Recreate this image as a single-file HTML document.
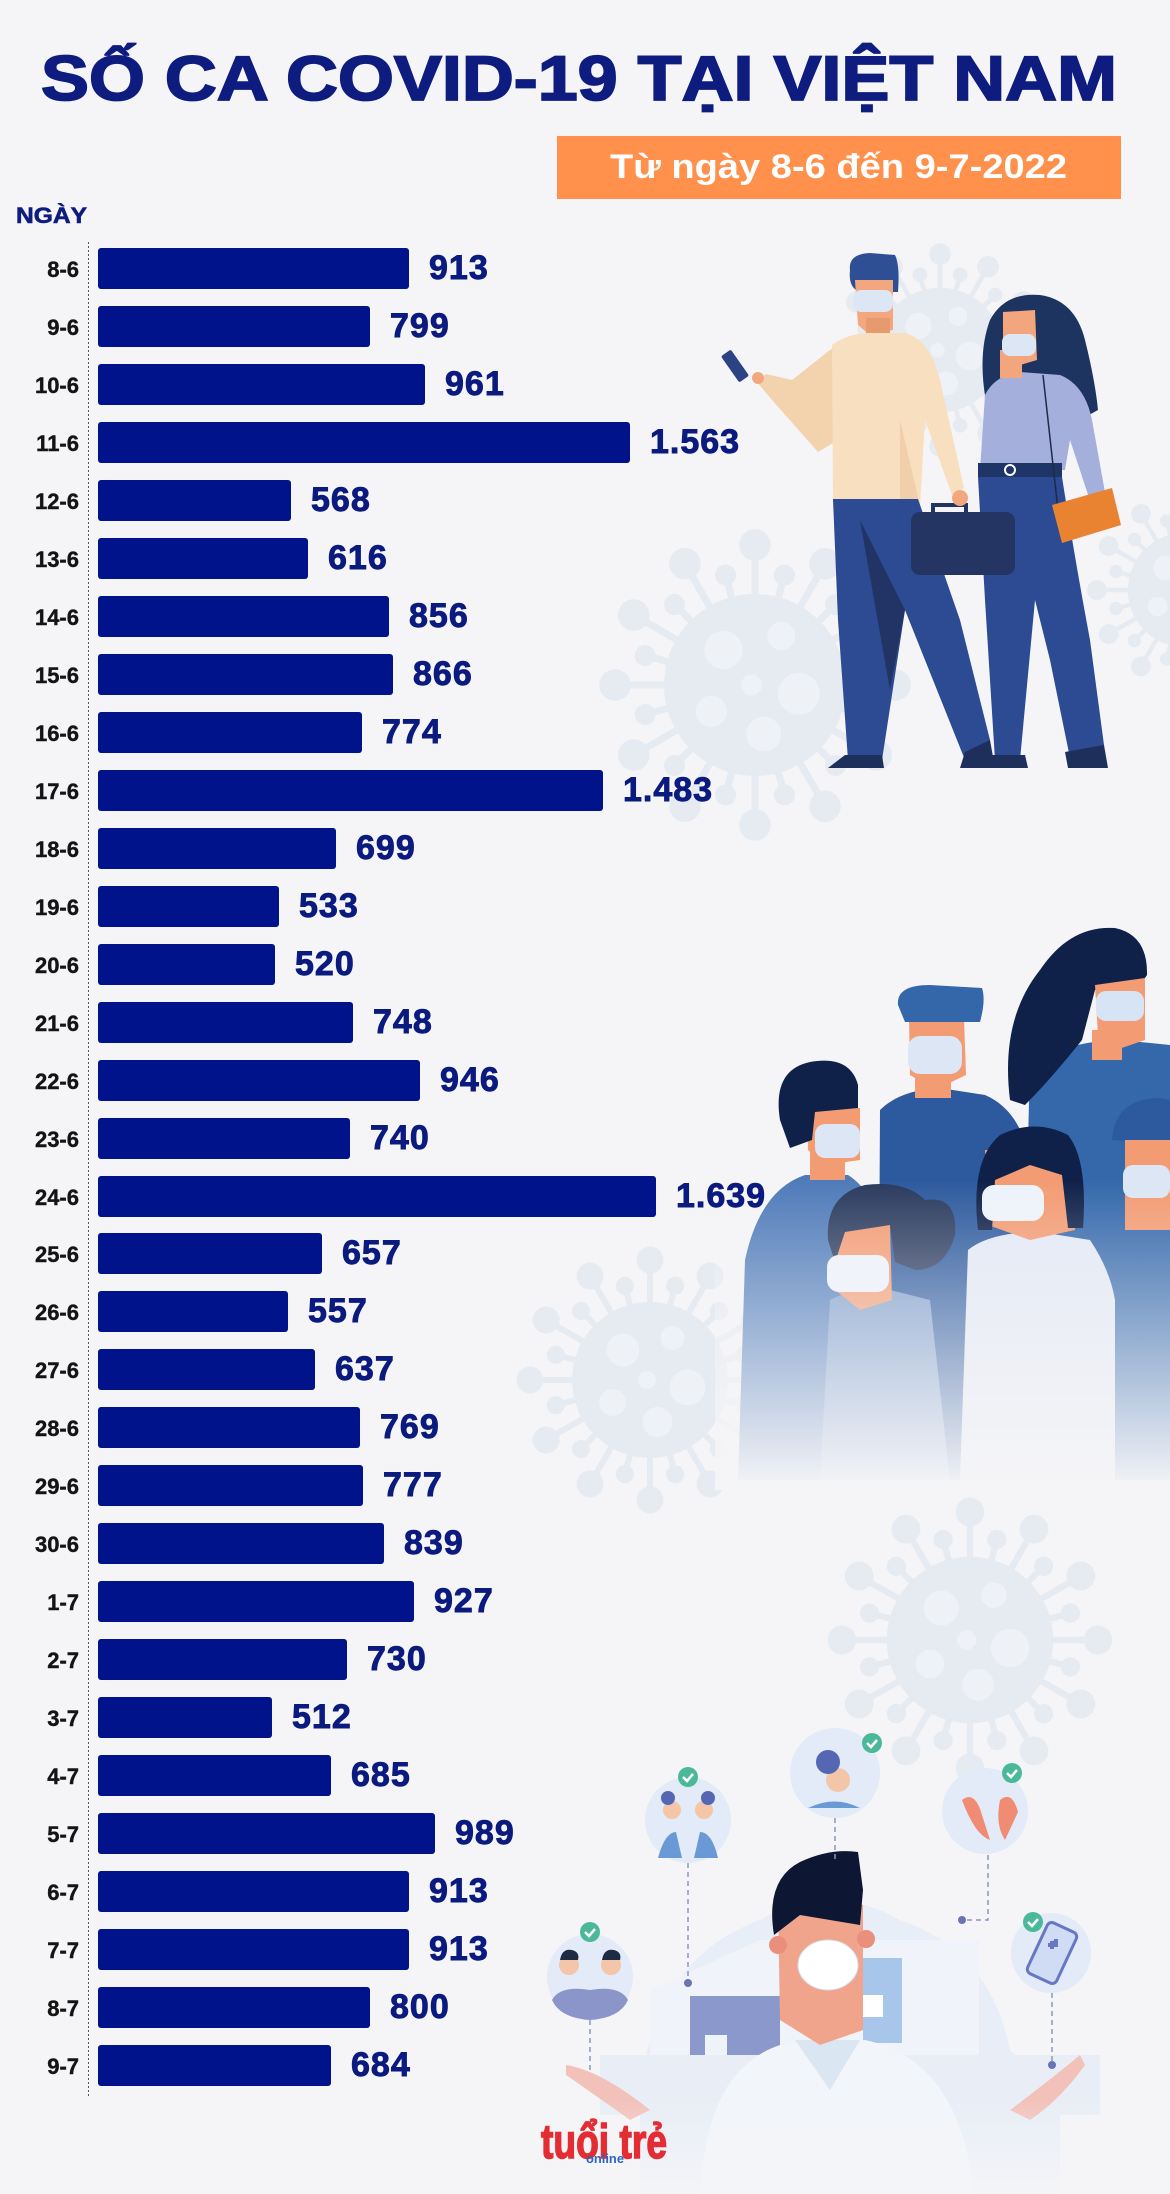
<!DOCTYPE html>
<html><head><meta charset="utf-8"><style>
html,body{margin:0;padding:0;background:#f5f5f7;}
svg{display:block;}
</style></head><body>
<svg width="1170" height="2194" viewBox="0 0 1170 2194" xmlns="http://www.w3.org/2000/svg">
<defs>
<g id="vir">
<path d="M0 0L80 0M0 0L69.3 40M0 0L40 69.3M0 0L0 80M0 0L-40 69.3M0 0L-69.3 40M0 0L-80 0M0 0L-69.3 -40M0 0L-40 -69.3M0 0L0 -80M0 0L40 -69.3M0 0L69.3 -40M0 0L62.8 16.8M0 0L46 46M0 0L16.8 62.8M0 0L-16.8 62.8M0 0L-46 46M0 0L-62.8 16.8M0 0L-62.8 -16.8M0 0L-46 -46M0 0L-16.8 -62.8M0 0L16.8 -62.8M0 0L46 -46M0 0L62.8 -16.8" stroke="#e6eaf1" stroke-width="4" fill="none"/>
<g fill="#e6eaf1">
<circle cx="80" cy="0" r="9"/><circle cx="69.3" cy="40" r="9"/><circle cx="40" cy="69.3" r="9"/><circle cx="0" cy="80" r="9"/><circle cx="-40" cy="69.3" r="9"/><circle cx="-69.3" cy="40" r="9"/><circle cx="-80" cy="0" r="9"/><circle cx="-69.3" cy="-40" r="9"/><circle cx="-40" cy="-69.3" r="9"/><circle cx="0" cy="-80" r="9"/><circle cx="40" cy="-69.3" r="9"/><circle cx="69.3" cy="-40" r="9"/>
<circle cx="62.8" cy="16.8" r="6"/><circle cx="46" cy="46" r="6"/><circle cx="16.8" cy="62.8" r="6"/><circle cx="-16.8" cy="62.8" r="6"/><circle cx="-46" cy="46" r="6"/><circle cx="-62.8" cy="16.8" r="6"/><circle cx="-62.8" cy="-16.8" r="6"/><circle cx="-46" cy="-46" r="6"/><circle cx="-16.8" cy="-62.8" r="6"/><circle cx="16.8" cy="-62.8" r="6"/><circle cx="46" cy="-46" r="6"/><circle cx="62.8" cy="-16.8" r="6"/>
<circle cx="0" cy="0" r="52"/>
</g>
<g fill="#eef1f5">
<circle cx="-18" cy="-20" r="11"/><circle cx="15" cy="-28" r="8"/><circle cx="25" cy="5" r="12"/><circle cx="-25" cy="15" r="9"/><circle cx="5" cy="28" r="10"/><circle cx="-2" cy="0" r="6"/>
</g>
</g>
<linearGradient id="fadeCrowd" x1="0" y1="0" x2="0" y2="1">
<stop offset="0" stop-color="#f5f5f7" stop-opacity="0"/>
<stop offset="0.4" stop-color="#f5f5f7" stop-opacity="0.4"/>
<stop offset="1" stop-color="#f5f5f7" stop-opacity="1"/>
</linearGradient>
<linearGradient id="fadeDoc" x1="0" y1="0" x2="0" y2="1">
<stop offset="0" stop-color="#f5f5f7" stop-opacity="0"/>
<stop offset="1" stop-color="#f5f5f7" stop-opacity="0.9"/>
</linearGradient>
</defs>

<rect width="1170" height="2194" fill="#f5f5f7"/>

<!-- background viruses -->
<use href="#vir" transform="translate(940,350) scale(1.2)"/>
<use href="#vir" transform="translate(755,685) scale(1.75)"/>
<use href="#vir" transform="translate(1185,590) scale(1.1)"/>
<use href="#vir" transform="translate(650,1380) scale(1.5)"/>
<use href="#vir" transform="translate(970,1640) scale(1.6)"/>
<use href="#vir" transform="translate(1160,1330) scale(0.9)"/>

<!-- Title -->
<text x="41" y="100" font-family="Liberation Sans, sans-serif" font-weight="bold" font-size="63" fill="#0e1c80" stroke="#0e1c80" stroke-width="1.8" textLength="1076" lengthAdjust="spacingAndGlyphs">SỐ CA COVID-19 TẠI VIỆT NAM</text>

<rect x="557" y="136" width="564" height="63" fill="#ff914d"/>
<text x="610" y="178" font-family="Liberation Sans, sans-serif" font-weight="bold" font-size="34" fill="#ffffff" textLength="457" lengthAdjust="spacingAndGlyphs">Từ ngày 8-6 đến 9-7-2022</text>

<text x="16" y="223" font-family="Liberation Sans, sans-serif" font-weight="bold" font-size="22" fill="#0e1c80" stroke="#0e1c80" stroke-width="0.6" textLength="71" lengthAdjust="spacingAndGlyphs">NGÀY</text>

<line x1="88.5" y1="242" x2="88.5" y2="2096" stroke="#555" stroke-width="1" stroke-dasharray="2,2"/>

<!-- Couple illustration -->
<g>
<path d="M990 420 Q975 360 990 320 Q1005 292 1040 295 Q1075 300 1085 340 Q1095 380 1098 410 L1080 420 Z" fill="#1d3461"/>
<path d="M980 470 L985 395 Q995 375 1020 372 L1060 375 Q1085 385 1092 420 L1110 520 L1098 525 L1070 440 L1065 470 Z" fill="#a4afdc"/>
<rect x="1000" y="350" width="22" height="28" fill="#f3a57d"/>
<path d="M1003 312 L1035 310 L1037 360 L1010 368 L1003 350 Z" fill="#f3a57d"/>
<rect x="1002" y="334" width="34" height="22" rx="8" fill="#dce6f5"/>
<rect x="978" y="463" width="84" height="14" fill="#1f3467"/>
<circle cx="1010" cy="470" r="5" fill="none" stroke="#fff" stroke-width="2"/>
<path d="M978 477 L1062 477 Q1075 560 1090 640 L1104 745 L1090 760 L1070 758 L1050 660 L1035 600 L1020 760 L995 760 L985 600 Z" fill="#2c4b92"/>
<path d="M1065 752 L1104 745 L1108 768 L1068 768 Z" fill="#1f2f5c"/>
<path d="M990 755 L1025 755 L1028 768 L988 768 Z" fill="#1f2f5c"/>
<path d="M1043 375 L1058 510" stroke="#1d2a4a" stroke-width="1.5"/>
<path d="M1052 505 L1112 488 L1121 525 L1062 543 Z" fill="#e98332"/>
<path d="M850 270 Q848 254 870 253 L895 255 Q900 265 898 292 L860 292 Q848 288 850 270 Z" fill="#2f4f94"/>
<path d="M855 280 L893 280 L893 330 L870 335 L858 325 Z" fill="#f2a77e"/>
<rect x="853" y="290" width="40" height="22" rx="8" fill="#dce6f5"/>
<rect x="866" y="318" width="24" height="22" fill="#e89a6f"/>
<path d="M842 345 L838 440 L818 452 L772 400 L757 382 L766 374 L792 380 L830 350 Z" fill="#f3d2ae"/>
<rect x="729" y="350" width="12" height="32" rx="2" transform="rotate(-35 735 366)" fill="#2b4285"/>
<circle cx="758" cy="378" r="6" fill="#f2a77e"/>
<path d="M832 345 Q850 332 875 333 L905 333 Q930 340 940 380 L964 488 L952 495 L925 420 L920 506 L833 506 Z" fill="#f8dfc0"/>
<path d="M900 420 L920 506 L900 506 Z" fill="#f0cfaa"/>
<path d="M833 499 L918 499 L960 620 L990 740 L985 758 L965 760 L905 610 L882 760 L848 760 L838 620 Z" fill="#2c4b92"/>
<path d="M860 520 L905 610 L890 690 Z" fill="#223366"/>
<path d="M845 755 L882 755 L884 768 L828 768 Z" fill="#1f2f5c"/>
<path d="M965 752 L990 740 L995 768 L960 768 Z" fill="#1f2f5c"/>
<path d="M933 513 L933 505 L966 505 L966 513" stroke="#243563" stroke-width="4" fill="none"/>
<rect x="911" y="512" width="104" height="63" rx="9" fill="#243563"/>
<circle cx="960" cy="498" r="8" fill="#f2a77e"/>
</g>

<!-- Crowd illustration -->
<g>
<path d="M1030 1060 Q1080 1040 1120 1040 L1170 1045 L1170 1480 L1020 1480 Z" fill="#3468ab"/>
<path d="M1010 1100 Q1000 1020 1040 970 Q1070 925 1115 928 Q1148 935 1147 975 L1140 985 L1095 990 L1082 1040 Q1050 1080 1025 1105 Z" fill="#0f2149"/>
<path d="M1095 985 L1145 978 L1145 1040 L1110 1052 L1098 1035 Z" fill="#f39b72"/>
<rect x="1092" y="1030" width="30" height="30" fill="#f39b72"/>
<rect x="1096" y="991" width="48" height="30" rx="10" fill="#d6e4f5"/>
<path d="M1112 1140 Q1115 1098 1160 1098 L1170 1100 L1170 1145 Z" fill="#2d5a9e"/>
<rect x="1125" y="1140" width="45" height="90" fill="#f39b72"/>
<rect x="1123" y="1165" width="47" height="33" rx="10" fill="#dce6f5"/>
<path d="M880 1110 Q900 1090 940 1088 L985 1095 Q1020 1110 1030 1160 L1030 1480 L878 1480 Z" fill="#2d5a9e"/>
<rect x="915" y="1060" width="36" height="38" fill="#f39b72"/>
<path d="M909 1018 L964 1018 L966 1075 L935 1090 L910 1075 Z" fill="#f39b72"/>
<path d="M898 1005 Q896 985 930 985 L982 988 Q986 1000 980 1022 L905 1022 Z" fill="#3467a9"/>
<rect x="908" y="1036" width="54" height="38" rx="12" fill="#dce6f5"/>
<path d="M745 1260 Q760 1190 805 1175 L848 1175 Q872 1190 882 1230 L882 1480 L738 1480 Z" fill="#4f7bb9"/>
<rect x="810" y="1145" width="35" height="35" fill="#f39b72"/>
<path d="M807 1108 L860 1108 L860 1160 L825 1165 L808 1150 Z" fill="#f39b72"/>
<path d="M780 1120 Q772 1070 810 1062 Q850 1055 858 1085 L858 1108 L815 1112 L812 1140 L790 1148 Z" fill="#0f2149"/>
<rect x="815" y="1124" width="45" height="34" rx="10" fill="#dce6f5"/>
<path d="M968 1250 Q990 1232 1040 1232 L1090 1240 Q1110 1270 1115 1300 L1115 1480 L960 1480 Z" fill="#e3e9f5"/>
<path d="M985 1150 L1075 1150 L1075 1230 L1030 1240 L988 1225 Z" fill="#f39b72"/>
<path d="M978 1230 Q970 1160 1000 1135 Q1035 1118 1068 1135 Q1088 1160 1083 1228 L1068 1228 L1062 1175 L1030 1165 L995 1180 L992 1230 Z" fill="#0f2149"/>
<rect x="982" y="1185" width="62" height="36" rx="12" fill="#eef3fb"/>
<path d="M830 1300 Q850 1288 890 1290 L930 1300 L950 1480 L820 1480 Z" fill="#7d9dcb"/>
<path d="M832 1225 L890 1225 L892 1300 L860 1310 L835 1290 Z" fill="#f39b72"/>
<path d="M828 1240 Q825 1195 865 1185 Q905 1180 925 1200 Q958 1195 955 1235 Q945 1270 915 1270 L895 1262 L890 1225 L845 1232 L835 1262 Z" fill="#2a3a5e"/>
<rect x="827" y="1255" width="62" height="37" rx="12" fill="#eef3fb"/>
<rect x="715" y="1180" width="455" height="310" fill="url(#fadeCrowd)"/>
</g>

<!-- Doctor scene -->
<g>
<path d="M640 2100 Q650 1960 760 1920 Q830 1880 900 1920 Q990 1950 1010 2050 L1060 2100 L1060 2194 L640 2194 Z" fill="#e8eef7"/>
<path d="M650 1990 L760 1940 L979 1940 L979 2062 L650 2062 Z" fill="#f0f3f9"/>
<rect x="690" y="1996" width="90" height="66" fill="#8b98cb"/>
<rect x="863" y="1958" width="39" height="85" fill="#a8c6ea"/>
<rect x="705" y="2035" width="22" height="27" fill="#eef2f9"/>
<rect x="861" y="1995" width="22" height="22" fill="#ffffff"/>
<rect x="600" y="2055" width="500" height="60" fill="#e9eef6"/>
<path d="M701 2194 Q705 2070 780 2045 L865 2040 Q960 2060 974 2194 Z" fill="#f2f5fa"/>
<path d="M795 2040 L830 2090 L860 2040 Z" fill="#dbe6f3"/>
<path d="M778 1905 L863 1905 L863 2030 L820 2045 L780 2020 Z" fill="#f0a48b"/>
<circle cx="778" cy="1945" r="9" fill="#e98f7c"/>
<circle cx="866" cy="1939" r="9" fill="#e98f7c"/>
<path d="M774 1935 Q765 1880 800 1862 Q830 1848 858 1852 L863 1890 L860 1925 L800 1915 Z" fill="#0d1632"/>
<ellipse cx="828" cy="1965" rx="30" ry="25" fill="#ffffff" stroke="#d8dde8" stroke-width="1"/>
<path d="M566 2065 Q600 2070 650 2110 L630 2120 Q595 2095 566 2075 Z" fill="#f2c2ba"/>
<path d="M1080 2055 Q1050 2080 1010 2110 L1030 2120 Q1060 2100 1085 2065 Z" fill="#f2c2ba"/>
<g stroke="#8c97c4" stroke-width="1.5" stroke-dasharray="5,4" fill="none">
<path d="M590 2020 L590 2070"/>
<path d="M688 1863 L688 1983"/>
<path d="M835 1818 L835 1860"/>
<path d="M988 1855 L988 1920 L962 1920"/>
<path d="M1052 1993 L1052 2065"/>
</g>
<circle cx="688" cy="1983" r="4" fill="#6774b5"/>
<circle cx="962" cy="1920" r="4" fill="#6774b5"/>
<circle cx="1052" cy="2065" r="4" fill="#6774b5"/>
<circle cx="590" cy="1977" r="43" fill="#e2ebf7"/>
<circle cx="688" cy="1820" r="43" fill="#e2ebf7"/>
<circle cx="835" cy="1773" r="45" fill="#e2ebf7"/>
<circle cx="985" cy="1811" r="43" fill="#e2ebf7"/>
<circle cx="1051" cy="1953" r="40" fill="#e2ebf7"/>
<path d="M552 2000 Q560 1985 590 1990 Q620 1985 628 2000 Q620 2018 590 2020 Q560 2018 552 2000 Z" fill="#8b95c9"/>
<circle cx="569" cy="1965" r="10" fill="#f3c6a9"/><circle cx="611" cy="1965" r="10" fill="#f3c6a9"/>
<path d="M560 1960 Q562 1948 572 1950 Q580 1952 578 1960 Z" fill="#1f2a44"/>
<path d="M602 1960 Q604 1948 614 1950 Q622 1952 620 1960 Z" fill="#1f2a44"/>
<path d="M658 1858 Q665 1832 676 1832 L682 1858 Z" fill="#6a9ad6"/>
<path d="M694 1858 L700 1832 Q712 1832 718 1858 Z" fill="#6a9ad6"/>
<circle cx="672" cy="1810" r="9" fill="#f3c6a9"/><circle cx="704" cy="1810" r="9" fill="#f3c6a9"/>
<circle cx="668" cy="1798" r="7" fill="#5566b3"/><circle cx="708" cy="1798" r="7" fill="#5566b3"/>
<path d="M808 1808 Q835 1795 860 1808 Z" fill="#6a9ad6"/>
<circle cx="838" cy="1780" r="12" fill="#f3c6a9"/>
<circle cx="828" cy="1762" r="12" fill="#5566b3"/>
<path d="M962 1800 Q975 1790 982 1815 L990 1840 Q975 1835 962 1800 Z" fill="#f08c74"/>
<path d="M1000 1800 Q1012 1790 1018 1812 L1005 1840 Q995 1825 1000 1800 Z" fill="#f08c74"/>
<rect x="1036" y="1925" width="32" height="56" rx="5" transform="rotate(25 1052 1953)" fill="#cfdcf4" stroke="#6777c4" stroke-width="3"/>
<path d="M1048 1945 h8 v-6 M1052 1941 v8" stroke="#6777c4" stroke-width="4"/>
<g fill="#4cb89a">
<circle cx="590" cy="1932" r="10"/><circle cx="688" cy="1777" r="10"/><circle cx="872" cy="1743" r="10"/><circle cx="1012" cy="1773" r="10"/><circle cx="1033" cy="1922" r="10"/>
</g>
<g stroke="#fff" stroke-width="2.5" fill="none">
<path d="M585 1932 l4 4 l6 -7"/><path d="M683 1777 l4 4 l6 -7"/><path d="M867 1743 l4 4 l6 -7"/><path d="M1007 1773 l4 4 l6 -7"/><path d="M1028 1922 l4 4 l6 -7"/>
</g>
<rect x="520" y="2100" width="650" height="94" fill="url(#fadeDoc)"/>
</g>

<!-- logo -->
<text x="541" y="2158" font-family="Liberation Sans, sans-serif" font-weight="bold" font-size="48" fill="#e42c33" stroke="#e42c33" stroke-width="1.5" textLength="126" lengthAdjust="spacingAndGlyphs">tuổi trẻ</text>
<rect x="585" y="2150" width="40" height="13" fill="#f5f5f7" opacity="0"/>
<text x="586" y="2163" font-family="Liberation Sans, sans-serif" font-weight="bold" font-size="13" fill="#2b66c0" textLength="38" lengthAdjust="spacingAndGlyphs">online</text>

<!-- Bars -->
<g fill="#00138a">
<rect x="98" y="248" width="311" height="41" rx="3"/>
<rect x="98" y="306" width="272" height="41" rx="3"/>
<rect x="98" y="364" width="327" height="41" rx="3"/>
<rect x="98" y="422" width="532" height="41" rx="3"/>
<rect x="98" y="480" width="193" height="41" rx="3"/>
<rect x="98" y="538" width="210" height="41" rx="3"/>
<rect x="98" y="596" width="291" height="41" rx="3"/>
<rect x="98" y="654" width="295" height="41" rx="3"/>
<rect x="98" y="712" width="264" height="41" rx="3"/>
<rect x="98" y="770" width="505" height="41" rx="3"/>
<rect x="98" y="828" width="238" height="41" rx="3"/>
<rect x="98" y="886" width="181" height="41" rx="3"/>
<rect x="98" y="944" width="177" height="41" rx="3"/>
<rect x="98" y="1002" width="255" height="41" rx="3"/>
<rect x="98" y="1060" width="322" height="41" rx="3"/>
<rect x="98" y="1118" width="252" height="41" rx="3"/>
<rect x="98" y="1176" width="558" height="41" rx="3"/>
<rect x="98" y="1233" width="224" height="41" rx="3"/>
<rect x="98" y="1291" width="190" height="41" rx="3"/>
<rect x="98" y="1349" width="217" height="41" rx="3"/>
<rect x="98" y="1407" width="262" height="41" rx="3"/>
<rect x="98" y="1465" width="265" height="41" rx="3"/>
<rect x="98" y="1523" width="286" height="41" rx="3"/>
<rect x="98" y="1581" width="316" height="41" rx="3"/>
<rect x="98" y="1639" width="249" height="41" rx="3"/>
<rect x="98" y="1697" width="174" height="41" rx="3"/>
<rect x="98" y="1755" width="233" height="41" rx="3"/>
<rect x="98" y="1813" width="337" height="41" rx="3"/>
<rect x="98" y="1871" width="311" height="41" rx="3"/>
<rect x="98" y="1929" width="311" height="41" rx="3"/>
<rect x="98" y="1987" width="272" height="41" rx="3"/>
<rect x="98" y="2045" width="233" height="41" rx="3"/>
</g>

<!-- Date labels -->
<g font-family="Liberation Sans, sans-serif" font-weight="bold" font-size="22" fill="#141414" stroke="#141414" stroke-width="0.4" text-anchor="end">
<text x="79" y="277">8-6</text>
<text x="79" y="335">9-6</text>
<text x="79" y="393">10-6</text>
<text x="79" y="451">11-6</text>
<text x="79" y="509">12-6</text>
<text x="79" y="567">13-6</text>
<text x="79" y="625">14-6</text>
<text x="79" y="683">15-6</text>
<text x="79" y="741">16-6</text>
<text x="79" y="799">17-6</text>
<text x="79" y="857">18-6</text>
<text x="79" y="915">19-6</text>
<text x="79" y="973">20-6</text>
<text x="79" y="1031">21-6</text>
<text x="79" y="1089">22-6</text>
<text x="79" y="1147">23-6</text>
<text x="79" y="1205">24-6</text>
<text x="79" y="1262">25-6</text>
<text x="79" y="1320">26-6</text>
<text x="79" y="1378">27-6</text>
<text x="79" y="1436">28-6</text>
<text x="79" y="1494">29-6</text>
<text x="79" y="1552">30-6</text>
<text x="79" y="1610">1-7</text>
<text x="79" y="1668">2-7</text>
<text x="79" y="1726">3-7</text>
<text x="79" y="1784">4-7</text>
<text x="79" y="1842">5-7</text>
<text x="79" y="1900">6-7</text>
<text x="79" y="1958">7-7</text>
<text x="79" y="2016">8-7</text>
<text x="79" y="2074">9-7</text>
</g>

<!-- Values -->
<g font-family="Liberation Sans, sans-serif" font-weight="bold" font-size="34" fill="#0b1a7e" stroke="#0b1a7e" stroke-width="0.9" letter-spacing="1">
<text x="429" y="279">913</text>
<text x="390" y="337">799</text>
<text x="445" y="395">961</text>
<text x="650" y="453">1.563</text>
<text x="311" y="511">568</text>
<text x="328" y="569">616</text>
<text x="409" y="627">856</text>
<text x="413" y="685">866</text>
<text x="382" y="743">774</text>
<text x="623" y="801">1.483</text>
<text x="356" y="859">699</text>
<text x="299" y="917">533</text>
<text x="295" y="975">520</text>
<text x="373" y="1033">748</text>
<text x="440" y="1091">946</text>
<text x="370" y="1149">740</text>
<text x="676" y="1207">1.639</text>
<text x="342" y="1264">657</text>
<text x="308" y="1322">557</text>
<text x="335" y="1380">637</text>
<text x="380" y="1438">769</text>
<text x="383" y="1496">777</text>
<text x="404" y="1554">839</text>
<text x="434" y="1612">927</text>
<text x="367" y="1670">730</text>
<text x="292" y="1728">512</text>
<text x="351" y="1786">685</text>
<text x="455" y="1844">989</text>
<text x="429" y="1902">913</text>
<text x="429" y="1960">913</text>
<text x="390" y="2018">800</text>
<text x="351" y="2076">684</text>
</g>
</svg>
</body></html>
